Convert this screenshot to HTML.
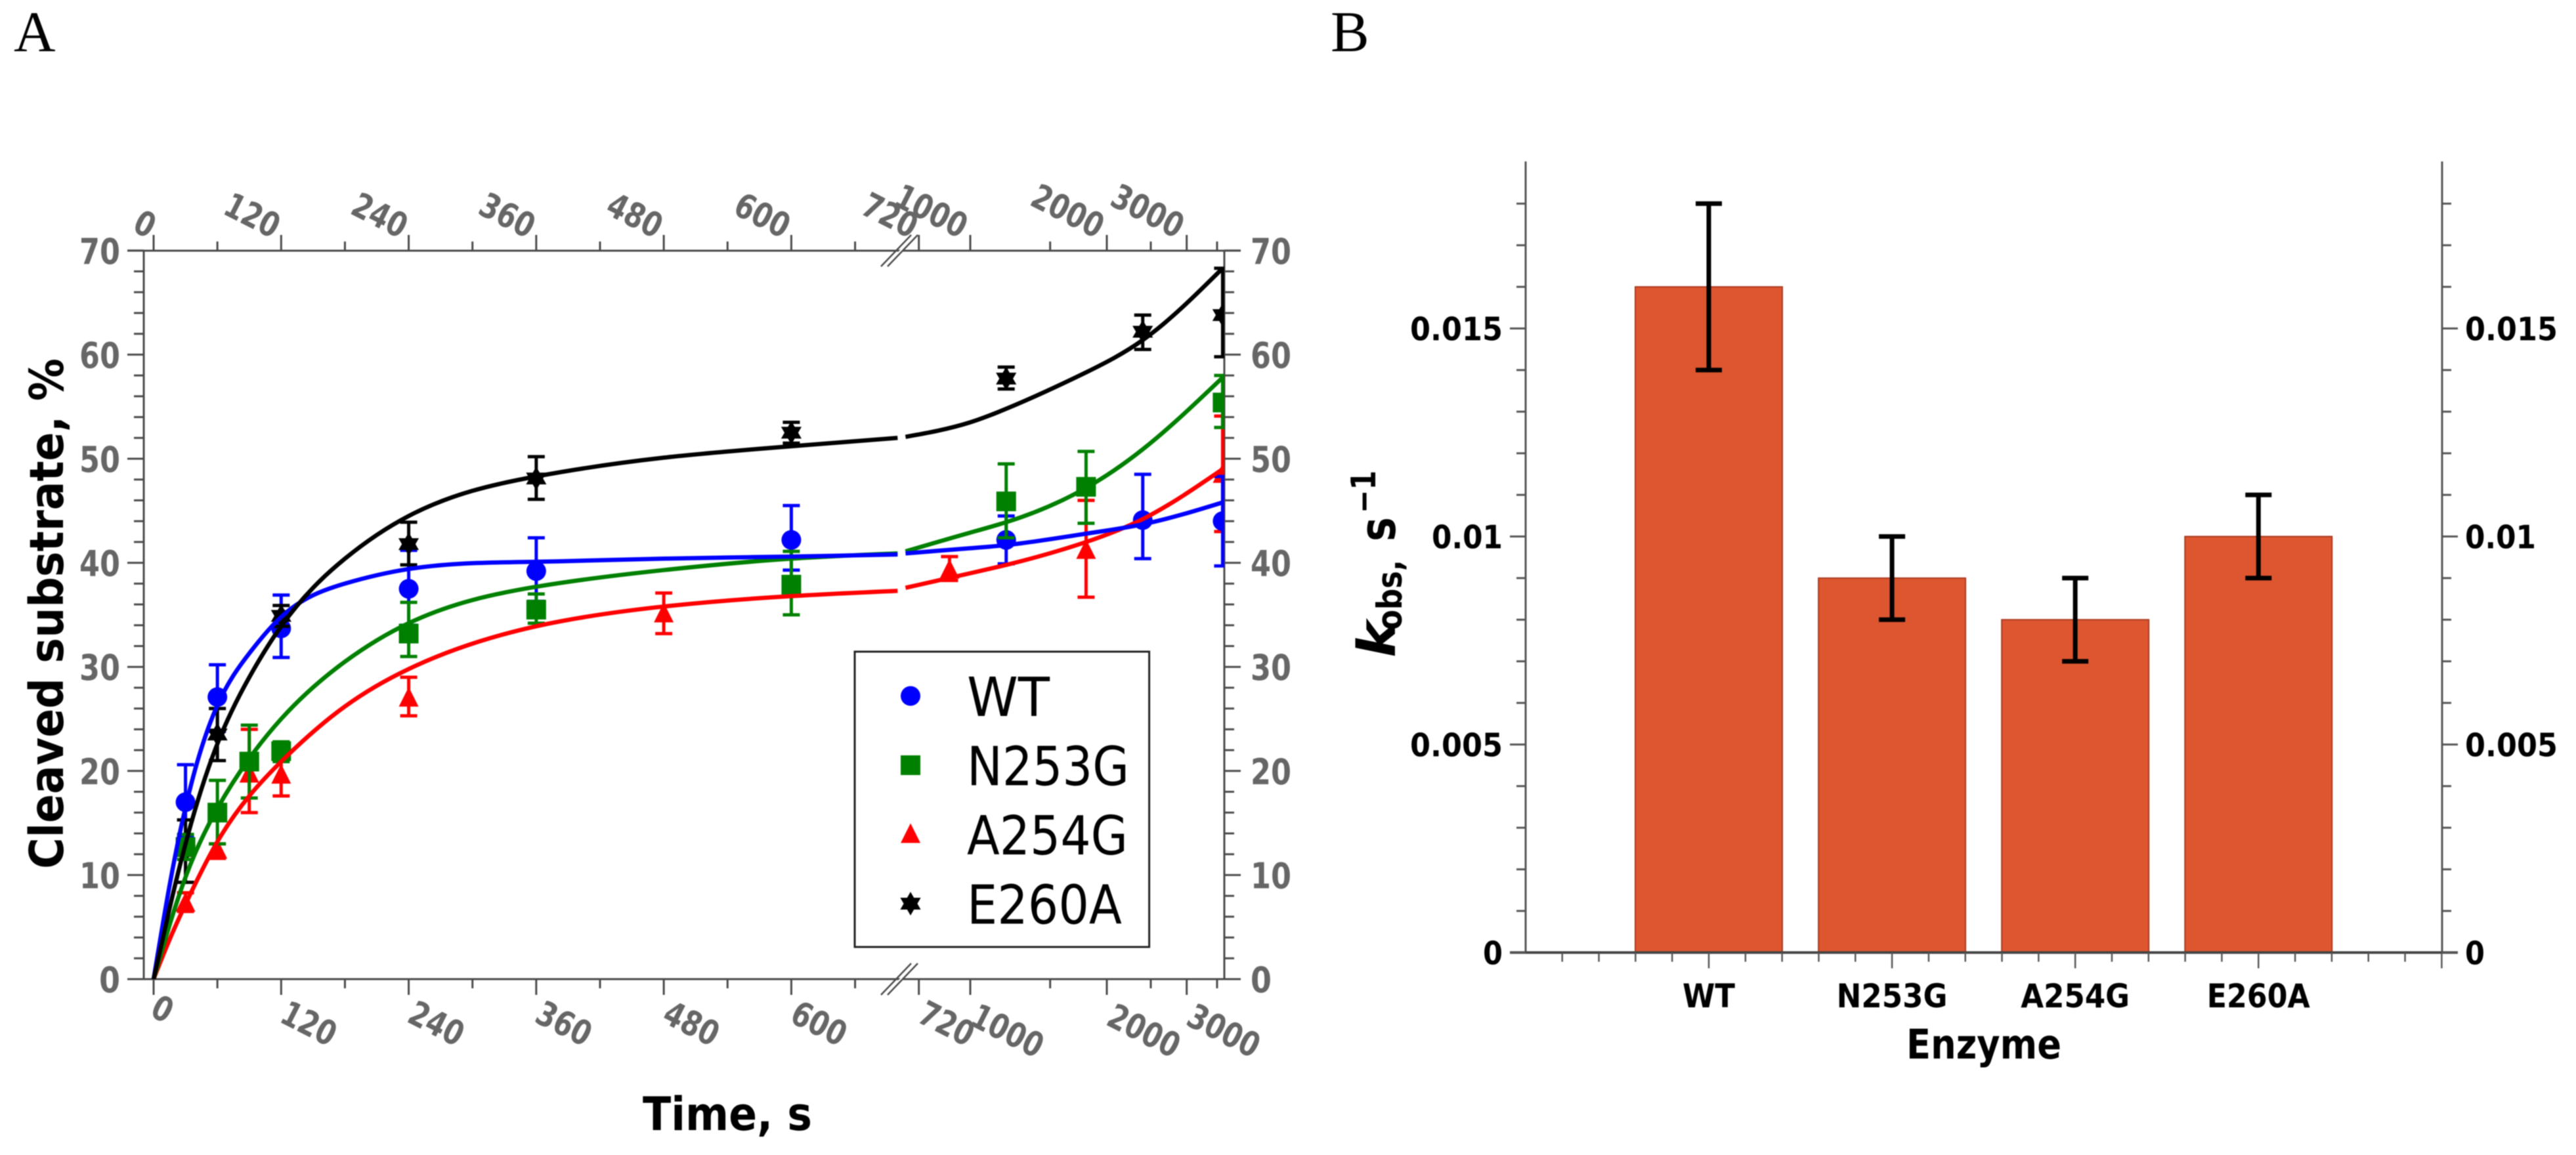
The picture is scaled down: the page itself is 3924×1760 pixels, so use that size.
<!DOCTYPE html>
<html lang="en">
<head>
<meta charset="utf-8">
<title>Cleavage kinetics and kobs by enzyme</title>
<style>
html,body{margin:0;padding:0;background:#fff;width:3924px;height:1760px;overflow:hidden}
svg{display:block;filter:blur(0.8px)}
text{font-family:"DejaVu Sans","Liberation Sans",sans-serif}
</style>
</head>
<body>
<svg id="root" xmlns="http://www.w3.org/2000/svg" width="3924" height="1760" viewBox="0 0 3924 1760">
  <rect x="0" y="0" width="3924" height="1760" fill="#fff"/>
  <defs><clipPath id="plotClip"><rect x="219" y="382" width="1646" height="1110"/></clipPath></defs>
  <text x="21" y="78" font-size="88" style="font-family:'Liberation Serif',serif">A</text>
  <text x="2027" y="78" font-size="88" style="font-family:'Liberation Serif',serif">B</text>
  <g id="panelA"></g>
  <g id="panelB"></g>
</svg>
<script>
// ---------- Panel A data ----------
const linearTicks = [0,60,120,180,240,300,360,420,480,540,600,660,720];
const linearLabels = [0,120,240,360,480,600,720];
const logTicks = [1000,1500,2000,2500,3000,3500];
const logLabels = [1000,2000,3000];
const yTickLabelsA = [0,10,20,30,40,50,60,70];

const curveTimesLinear = [0,15,30,60,90,120,180,240,360,480,600,700];
const curveTimesLog = [720,1000,1200,1800,2400,3600];

const wtCurveLinear = [0,9,16.5,26.3,31.3,34.8,38,39.4,40.1,40.4,40.6,40.8];
const n253gCurveLinear = [0,5.2,9.8,16.4,21.2,25,30.5,34.2,37.7,39.3,40.4,40.9];
const a254gCurveLinear = [0,3.8,7.2,13.2,17.6,20.9,26.2,29.8,33.9,35.8,36.8,37.3];
const e260aCurveLinear = [0,6.8,13,22.6,29,33.9,40.4,44.5,48.3,50.1,51.2,52];

const wtCurveLog = [40.9,41.4,41.7,42.8,43.7,45.8];
const n253gCurveLog = [41.1,42.9,43.9,47.2,50.9,57.8];
const a254gCurveLog = [37.6,39,39.8,42,44.2,49];
const e260aCurveLog = [52.1,53.5,54.8,58.3,61.4,68.3];

const wtTimes = [30,60,120,240,360,600,1200,2400,3600];
const wtValues = [17,27.1,33.7,37.5,39.2,42.2,42.2,44.1,44];
const wtLow = [13.6,23.8,30.9,34,36.3,39.3,39.9,40.4,39.7];
const wtHigh = [20.6,30.2,36.9,41.2,42.4,45.5,44.5,48.5,48.3];

const n253gTimes = [30,60,90,120,240,360,600,1200,1800,3600];
const n253gValues = [12.7,16,20.9,21.9,33.2,35.5,37.9,45.9,47.3,55.4];
const n253gLow = [11.5,13,17.4,20.9,31,34.2,35,42.4,43.8,53];
const n253gHigh = [13.9,19.1,24.4,22.8,36.2,37,41.1,49.5,50.7,58];

const a254gTimes = [30,60,90,120,240,480,900,1800,3600];
const a254gValues = [7.3,12.4,19.7,19.6,27,35.1,39.3,41.2,48.5];
const a254gLow = [6.5,11.6,16,17.6,25.3,33.2,38.3,36.7,43];
const a254gHigh = [8.3,13,24,21.9,29,37.1,40.6,46,54.1];

const e260aTimes = [30,60,120,240,360,600,1200,2400,3600];
const e260aValues = [12.3,23.5,34.9,41.8,48.1,52.5,57.7,62.2,63.8];
const e260aLow = [9.3,21,33.9,39.8,46.1,51.5,56.7,60.5,59.8];
const e260aHigh = [15.3,26,35.9,43.9,50.2,53.5,58.8,63.8,68.3];

const legendNames = ['WT','N253G','A254G','E260A'];

// ---------- Panel B data ----------
const enzymeNames = ['WT','N253G','A254G','E260A'];
const kobsValues = [0.016,0.009,0.008,0.01];
const kobsErrors = [0.002,0.001,0.001,0.001];
const yTickLabelsB = ['0','0.005','0.01','0.015'];
const yTickValuesB = [0,0.005,0.01,0.015];

// ---------- helpers ----------
const NS = 'http://www.w3.org/2000/svg';
function mk(parent, tag, attrs, txt){
  const e = document.createElementNS(NS, tag);
  for (const k in attrs) e.setAttribute(k, attrs[k]);
  if (txt !== undefined) e.textContent = txt;
  parent.appendChild(e);
  return e;
}
const AXC = '#4a4a4a', LBL = '#666';
const A = document.getElementById('panelA');
const B = document.getElementById('panelB');

// axis functions panel A
const xLinear = t => 234 + t * 1.619;
const xLog = t => 1478 + 691 * Math.log10(t / 1000);
const xTime = t => t <= 720 ? xLinear(t) : xLog(t);
const yPct = v => 1492 - v * 15.86;

// natural cubic spline through the pixel positions, output as Beziers
function smoothPath(xs, ys){
  const n = xs.length;
  const h = [];
  for (let i=0;i<n-1;i++) h.push(xs[i+1]-xs[i]);
  const M = new Array(n).fill(0), c = new Array(n).fill(0), d0 = new Array(n).fill(0);
  for (let i=1;i<n-1;i++){
    const a = h[i-1], b = 2*(h[i-1]+h[i]), r = h[i];
    const rhs = 6*((ys[i+1]-ys[i])/h[i]-(ys[i]-ys[i-1])/h[i-1]);
    const den = b - a*c[i-1];
    c[i] = r/den;
    d0[i] = (rhs - a*d0[i-1])/den;
  }
  for (let i=n-2;i>=1;i--) M[i] = d0[i]-c[i]*M[i+1];
  const m = [];
  for (let i=0;i<n-1;i++) m.push((ys[i+1]-ys[i])/h[i]-h[i]*(2*M[i]+M[i+1])/6);
  m.push((ys[n-1]-ys[n-2])/h[n-2]+h[n-2]*(M[n-2]+2*M[n-1])/6);
  let d = 'M' + xs[0].toFixed(1) + ' ' + ys[0].toFixed(1);
  for (let i=0;i<n-1;i++){
    const q = h[i]/3;
    d += ' C'+(xs[i]+q).toFixed(1)+' '+(ys[i]+m[i]*q).toFixed(1)+' '+(xs[i+1]-q).toFixed(1)+' '+(ys[i+1]-m[i+1]*q).toFixed(1)+' '+xs[i+1].toFixed(1)+' '+ys[i+1].toFixed(1);
  }
  return d;
}

function hexagramPoints(cx, cy, R){
  const r = R * 0.577, pts = [];
  for (let i=0;i<12;i++){
    const a = -Math.PI/2 + i*Math.PI/6, q = i%2 ? r : R;
    pts.push((cx+q*Math.cos(a)).toFixed(1)+','+(cy+q*Math.sin(a)).toFixed(1));
  }
  return pts.join(' ');
}

function drawMarker(parent, kind, cx, cy, color){
  let el;
  if (kind === 'circle') el = mk(parent,'ellipse',{cx:cx,cy:cy,rx:15,ry:15,fill:color});
  else if (kind === 'square') el = mk(parent,'rect',{x:cx-15,y:cy-15,width:30,height:30,fill:color});
  else if (kind === 'triangle') el = mk(parent,'polygon',{points:cx+','+(cy-17)+' '+(cx+15)+','+(cy+13)+' '+(cx-15)+','+(cy+13),fill:color});
  else el = mk(parent,'polygon',{points:hexagramPoints(cx,cy,18),fill:color});
  return el;
}

// ---------- Panel A axes ----------
const axisLines = [
  [194,382,1890,382],[194,1492,1890,1492],[219,382,219,1492],[1865,382,1865,1492]
];
axisLines.forEach(c=>{
  const l = mk(A,'line',{x1:c[0],y1:c[1],x2:c[2],y2:c[3],stroke:AXC,'stroke-width':3});
  
  
});

function xTickMarks(t){
  const x = xTime(t);
  const major = linearLabels.includes(t) || logLabels.includes(t);
  const len = major ? 24 : 14;
  const b = mk(A,'line',{x1:x,y1:1492,x2:x,y2:1492+len,stroke:AXC,'stroke-width':3});
  
  
  const u = mk(A,'line',{x1:x,y1:382,x2:x,y2:382-len,stroke:AXC,'stroke-width':3});
  
  
}
linearTicks.forEach(xTickMarks);
logTicks.forEach(xTickMarks);

function xTickLabels(t){
  const x = xTime(t);
  const s = String(t), n = s.length;
  const bx = x - 7.5 + (n-1)*1.4, by = 1547 + (n-1)*4.5;
  const lb = mk(A,'text',{transform:'translate('+bx+' '+by+') rotate(27)','font-size':52,'font-weight':'bold',fill:LBL,'text-anchor':'start',textLength:n*29,lengthAdjust:'spacingAndGlyphs'},s);
  
  
  const tx = x - 8.5 - (n-1)*2.5;
  const lt = mk(A,'text',{transform:'translate('+tx+' 364) rotate(27)','font-size':52,'font-weight':'bold',fill:LBL,'text-anchor':'end',textLength:n*29,lengthAdjust:'spacingAndGlyphs'},s);
  
  
}
linearLabels.forEach(xTickLabels);
logLabels.forEach(xTickLabels);

for (let v=0; v<=70; v+=2){
  const major = v % 10 === 0;
  const y = yPct(v);
  const len = major ? 25 : 15;
  const tl = mk(A,'line',{x1:219-len,y1:y,x2:219,y2:y,stroke:AXC,'stroke-width':3});
  
  
  const tr = mk(A,'line',{x1:1865,y1:y,x2:1865+len,y2:y,stroke:AXC,'stroke-width':3});
  
  
}
yTickLabelsA.forEach(v=>{
  const y = yPct(v) + 20;
  const w = v === 0 ? 32 : 62;
  const l = mk(A,'text',{x:183,y:y,'font-size':54,'font-weight':'bold',fill:LBL,'text-anchor':'end',textLength:w,lengthAdjust:'spacingAndGlyphs'},String(v));
  
  
  const r = mk(A,'text',{x:1905,y:y,'font-size':54,'font-weight':'bold',fill:LBL,'text-anchor':'start',textLength:w,lengthAdjust:'spacingAndGlyphs'},String(v));
  
  
});

// axis break marks
[[382],[1492]].forEach(c=>{
  const y = c[0];
  const gap = mk(A,'polygon',{points:(1347)+','+(y+24)+' '+(1393)+','+(y-24)+' '+(1393+5)+','+(y-24)+' '+(1352)+','+(y+24),fill:'#fff'});
  
  
  const s1 = mk(A,'line',{x1:1342,y1:y+24,x2:1388,y2:y-24,stroke:AXC,'stroke-width':2.5});
  
  
  const s2 = mk(A,'line',{x1:1352,y1:y+24,x2:1398,y2:y-24,stroke:AXC,'stroke-width':2.5});
  
  
});

// ---------- Panel A series ----------
const plot = mk(A,'g',{'clip-path':'url(#plotClip)'});



function drawPoints(times, vals, lows, highs, color, kind, label){
  times.forEach((t,i)=>{
    const x = xTime(t);
    const yLo = yPct(lows[i]), yHi = yPct(highs[i]);
    const stem = mk(plot,'line',{x1:x,y1:yLo,x2:x,y2:yHi,stroke:color,'stroke-width':5});
    
    
    const c1 = mk(plot,'line',{x1:x-13,y1:yLo,x2:x+13,y2:yLo,stroke:color,'stroke-width':5});
    
    
    const c2 = mk(plot,'line',{x1:x-13,y1:yHi,x2:x+13,y2:yHi,stroke:color,'stroke-width':5});
    
    
    const mkr = drawMarker(plot, kind, x, yPct(vals[i]), color);
    
    
  });
}
function drawCurve(linVals, logVals, color, label){
  const p1 = mk(plot,'path',{d:smoothPath(curveTimesLinear.map(xLinear), linVals.map(yPct)),fill:'none',stroke:color,'stroke-width':6.5});
  
  
  const p2 = mk(plot,'path',{d:smoothPath(curveTimesLog.map(xLog), logVals.map(yPct)),fill:'none',stroke:color,'stroke-width':6.5});
  
  
}

drawPoints(a254gTimes,a254gValues,a254gLow,a254gHigh,'#ff0000','triangle','a254g');
drawPoints(wtTimes,wtValues,wtLow,wtHigh,'#0000ff','circle','wt');
drawPoints(e260aTimes,e260aValues,e260aLow,e260aHigh,'#000000','star','e260a');
drawPoints(n253gTimes,n253gValues,n253gLow,n253gHigh,'#008000','square','n253g');
drawCurve(a254gCurveLinear,a254gCurveLog,'#ff0000','a254g');
drawCurve(n253gCurveLinear,n253gCurveLog,'#008000','n253g');
drawCurve(wtCurveLinear,wtCurveLog,'#0000ff','wt');
drawCurve(e260aCurveLinear,e260aCurveLog,'#000000','e260a');

// legend
const legendBox = mk(A,'rect',{x:1302,y:993,width:448.6,height:450,fill:'#fff',stroke:'#222','stroke-width':3});


const legendColors = ['#0000ff','#008000','#ff0000','#000000'];
const legendKinds = ['circle','square','triangle','star'];
const legendWidths = [126,247,245,236];
legendNames.forEach((n,i)=>{
  const cy = 1060.5 + i * 105.5;
  const m = drawMarker(A, legendKinds[i], 1387, cy, legendColors[i]);
  
  
  const t = mk(A,'text',{x:1473,y:cy+30.5,'font-size':82,fill:'#000',textLength:legendWidths[i],lengthAdjust:'spacingAndGlyphs'},n);
  
  
});

// titles
const yTitleA = mk(A,'text',{transform:'translate(96 1324) rotate(-90)','font-size':71,'font-weight':'bold',fill:'#000',textLength:778,lengthAdjust:'spacingAndGlyphs'},'Cleaved substrate, %');


const xTitleA = mk(A,'text',{x:979,y:1722,'font-size':70,'font-weight':'bold',fill:'#000',textLength:258,lengthAdjust:'spacingAndGlyphs'},'Time, s');



// ---------- Panel B ----------
const xCat = i => 2603 + 279.1 * i;
const yK = v => 1451.5 - v * 63400;
const BAR_W = 224;

enzymeNames.forEach((n,i)=>{
  const x = xCat(i);
  const bar = mk(B,'rect',{x:x-BAR_W/2,y:yK(kobsValues[i]),width:BAR_W,height:yK(0)-yK(kobsValues[i]),fill:'#de5630',stroke:'#a8391e','stroke-width':2});
  
  
});
enzymeNames.forEach((n,i)=>{
  const x = xCat(i);
  const hi = yK(kobsValues[i]+kobsErrors[i]), lo = yK(kobsValues[i]-kobsErrors[i]);
  const s = mk(B,'line',{x1:x,y1:lo,x2:x,y2:hi,stroke:'#000','stroke-width':7});
  
  
  const c1 = mk(B,'line',{x1:x-20,y1:lo,x2:x+20,y2:lo,stroke:'#000','stroke-width':7});
  
  
  const c2 = mk(B,'line',{x1:x-20,y1:hi,x2:x+20,y2:hi,stroke:'#000','stroke-width':7});
  
  
});

const bLeft = mk(B,'line',{x1:2324,y1:246,x2:2324,y2:1451.5,stroke:'#555','stroke-width':3});


const bRight = mk(B,'line',{x1:3720,y1:246,x2:3720,y2:1451.5,stroke:'#555','stroke-width':3});


const bBottom = mk(B,'line',{x1:2300,y1:1451.5,x2:3744,y2:1451.5,stroke:'#444','stroke-width':4});



for (let k=0; k<=18; k++){
  const y = yK(k/1000);
  const major = k % 5 === 0;
  const len = major ? 24 : 14;
  const a = mk(B,'line',{x1:2324-len,y1:y,x2:2324,y2:y,stroke:'#555','stroke-width':3});
  
  
  const b = mk(B,'line',{x1:3720,y1:y,x2:3720+len,y2:y,stroke:'#555','stroke-width':3});
  
  
}
for (let s=-4; s<=20; s++){
  const x = xCat(s/5);
  const major = (s+5) % 5 === 0;
  const t = mk(B,'line',{x1:x,y1:1451.5,x2:x,y2:1451.5+(major?24:14),stroke:'#555','stroke-width':2.5});
  
  
}

const yLabelWidthsB = [30,141,108,141];
yTickLabelsB.forEach((s,i)=>{
  const y = yK(yTickValuesB[i]) + 18;
  const l = mk(B,'text',{x:2289,y:y,'font-size':49,'font-weight':'bold',fill:'#000','text-anchor':'end',textLength:yLabelWidthsB[i],lengthAdjust:'spacingAndGlyphs'},s);
  
  
  const r = mk(B,'text',{x:3755,y:y,'font-size':49,'font-weight':'bold',fill:'#000','text-anchor':'start',textLength:yLabelWidthsB[i],lengthAdjust:'spacingAndGlyphs'},s);
  
  
});

const catLabelWidths = [80,169,166,157];
enzymeNames.forEach((n,i)=>{
  const t = mk(B,'text',{x:xCat(i),y:1535,'font-size':50,'font-weight':'bold',fill:'#000','text-anchor':'middle',textLength:catLabelWidths[i],lengthAdjust:'spacingAndGlyphs'},n);
  
  
});

const xTitleB = mk(B,'text',{x:2904,y:1613,'font-size':62,'font-weight':'bold',fill:'#000',textLength:236,lengthAdjust:'spacingAndGlyphs'},'Enzyme');



const kT = mk(B,'text',{transform:'translate(2125 1002) rotate(-90)','font-size':79,'font-weight':'bold','font-style':'italic',fill:'#000',textLength:56,lengthAdjust:'spacingAndGlyphs'},'k');


const obsT = mk(B,'text',{transform:'translate(2135 960) rotate(-90)','font-size':53,'font-weight':'bold',fill:'#000',textLength:107,lengthAdjust:'spacingAndGlyphs'},'obs,');


const sT = mk(B,'text',{transform:'translate(2125 825) rotate(-90)','font-size':76,'font-weight':'bold',fill:'#000',textLength:37,lengthAdjust:'spacingAndGlyphs'},'s');


const expT = mk(B,'text',{transform:'translate(2095 782) rotate(-90)','font-size':52,'font-weight':'bold',fill:'#000',textLength:65,lengthAdjust:'spacingAndGlyphs'},'\u22121');


</script>
</body>
</html>
